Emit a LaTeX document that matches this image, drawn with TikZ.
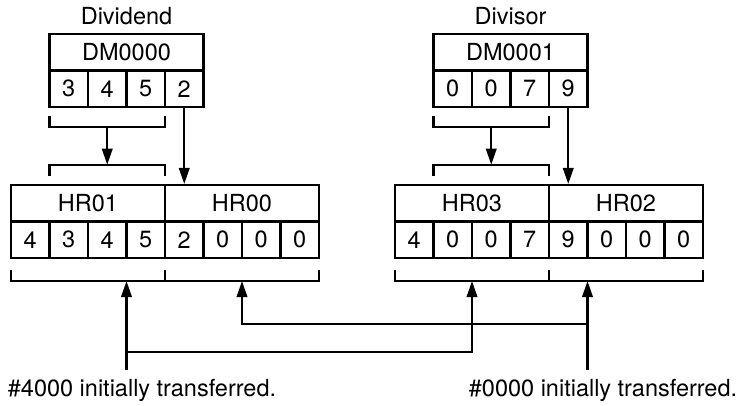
\documentclass[tikz,border=0pt]{standalone}
\usepackage{fontspec}
\setmainfont{TeX Gyre Heros}
\usetikzlibrary{arrows.meta}

\begin{document}
\begin{tikzpicture}[
    x=1pt, y=-1pt,
    every node/.style={font=\fontsize{23.5}{27}\selectfont},
    cell/.style={draw, line width=2.1pt, minimum width=38.5pt, minimum height=36.5pt, inner sep=0pt},
    regtitle/.style={cell, minimum width=154pt},
    bracket/.style={line width=2.1pt},
    arrow/.style={-{Triangle[length=16pt, width=10.5pt]}, line width=2.1pt}
]
\useasboundingbox (0,0) rectangle (751,406);

% ============ DIVIDEND (DM0000) ============
\node (dividend) at (126.5, 16) {Dividend};
\node[regtitle] (dm0) at (126.5, 52.25) {DM0000};
\node[cell] (dm0a) at (68.75, 88.75) {3};
\node[cell] (dm0b) at (107.25, 88.75) {4};
\node[cell] (dm0c) at (145.75, 88.75) {5};
\node[cell] (dm0d) at (184.25, 88.75) {2};

% ============ DIVISOR (DM0001) ============
\node (divisor) at (510.5, 16) {Divisor};
\node[regtitle] (dm1) at (510.5, 52.25) {DM0001};
\node[cell] (dm1a) at (452.75, 88.75) {0};
\node[cell] (dm1b) at (491.25, 88.75) {0};
\node[cell] (dm1c) at (529.75, 88.75) {7};
\node[cell] (dm1d) at (568.25, 88.75) {9};

% ============ HR01 / HR00 ============
\node[regtitle] (hr01) at (88, 203.25) {HR01};
\node[regtitle] (hr00) at (242, 203.25) {HR00};
\node[cell] (hr01a) at (30.25, 239.75) {4};
\node[cell] (hr01b) at (68.75, 239.75) {3};
\node[cell] (hr01c) at (107.25, 239.75) {4};
\node[cell] (hr01d) at (145.75, 239.75) {5};
\node[cell] (hr00a) at (184.25, 239.75) {2};
\node[cell] (hr00b) at (222.75, 239.75) {0};
\node[cell] (hr00c) at (261.25, 239.75) {0};
\node[cell] (hr00d) at (299.75, 239.75) {0};

% ============ HR03 / HR02 ============
\node[regtitle] (hr03) at (472, 203.25) {HR03};
\node[regtitle] (hr02) at (626, 203.25) {HR02};
\node[cell] (hr03a) at (414.25, 239.75) {4};
\node[cell] (hr03b) at (452.75, 239.75) {0};
\node[cell] (hr03c) at (491.25, 239.75) {0};
\node[cell] (hr03d) at (529.75, 239.75) {7};
\node[cell] (hr02a) at (568.25, 239.75) {9};
\node[cell] (hr02b) at (606.75, 239.75) {0};
\node[cell] (hr02c) at (645.25, 239.75) {0};
\node[cell] (hr02d) at (683.75, 239.75) {0};

% Brackets between DM and HR
\draw[bracket] (49.5, 116) |- (165, 126.7) -- (165, 116);
\draw[bracket] (49.5, 175.7) |- (165, 164.7) -- (165, 175.7);
\draw[bracket] (433.5, 116) |- (549, 126.7) -- (549, 116);
\draw[bracket] (433.5, 175.7) |- (549, 164.7) -- (549, 175.7);

\coordinate (out0) at (107.25, 126.7);
\coordinate (in01top) at (107.25, 164.7);
\coordinate (out1) at (491.25, 126.7);
\coordinate (in03top) at (491.25, 164.7);

% Transfers from DM words
\draw[arrow] (out0) -- (in01top);
\draw[arrow] (dm0d.south) -- (dm0d.south |- hr00.north);
\draw[arrow] (out1) -- (in03top);
\draw[arrow] (dm1d.south) -- (dm1d.south |- hr02.north);

% Brackets below HR
\draw[bracket] (11, 270) |- (319, 281) -- (319, 270);
\draw[bracket] (165, 270) -- (165, 281);
\draw[bracket] (395, 270) |- (703, 281) -- (703, 270);
\draw[bracket] (549, 270) -- (549, 281);

\coordinate (in01) at (126.5, 281);
\coordinate (in00) at (242, 281);
\coordinate (in03) at (472, 281);
\coordinate (in02) at (587.5, 281);

% Initial values
\coordinate (src4000) at (126.5, 370);
\coordinate (src0000) at (587.5, 370);
\coordinate (jn4000) at (126.5, 352.3);
\coordinate (jn0000) at (587.5, 324);

\draw[arrow] (src4000) -- (in01);
\draw[arrow] (jn4000) -| (in03);
\draw[arrow] (src0000) -- (in02);
\draw[arrow] (jn0000) -| (in00);

\node[anchor=base] (note4000) at (142, 396.5) {\#4000 initially transferred.};
\node[anchor=base] (note0000) at (603, 396.5) {\#0000 initially transferred.};

\end{tikzpicture}
\end{document}
